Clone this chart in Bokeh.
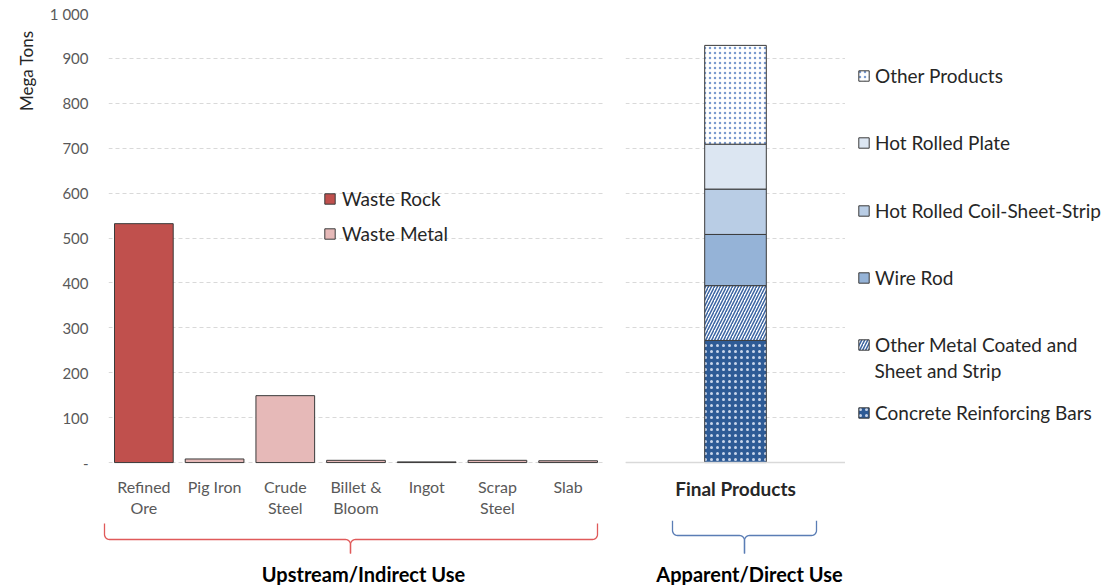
import math

from bokeh.core.properties import value
from bokeh.embed import file_html
from bokeh.layouts import column, row
from bokeh.models import (ColumnDataSource, FactorRange, FixedTicker, Label,
                          Legend, LegendItem, Range1d, Span, Title)
from bokeh.plotting import figure
from bokeh.resources import INLINE

FONT = "Lato"

# ---- data -------------------------------------------------------------
# Upstream / indirect use, mega tons
upstream_cats = ["Refined Ore", "Pig Iron", "Crude Steel", "Billet & Bloom",
                 "Ingot", "Scrap Steel", "Slab"]
upstream_label_line1 = ["Refined", "Pig Iron", "Crude", "Billet &", "Ingot", "Scrap", "Slab"]
upstream_label_line2 = ["Ore", "", "Steel", "Bloom", "", "Steel", ""]
upstream_vals = [532, 8, 149, 5, 1.5, 5, 4]
upstream_kind = ["Waste Rock", "Waste Metal", "Waste Metal", "Waste Metal",
                 "Waste Metal", "Waste Metal", "Waste Metal"]

# Apparent / direct use, final products stacked bottom to top, mega tons
final_cat = ["Final Products"]
product_names = ["Concrete Reinforcing Bars", "Other Metal Coated and Sheet and Strip",
                 "Wire Rod", "Hot Rolled Coil-Sheet-Strip", "Hot Rolled Plate",
                 "Other Products"]
product_vals = [272, 122, 114, 101, 100, 220]

y_ticks = [0, 100, 200, 300, 400, 500, 600, 700, 800, 900, 1000]
y_tick_labels = ["-", "100", "200", "300", "400", "500", "600", "700", "800", "900", "1 000"]

# ---- styles -----------------------------------------------------------
kind_colors = {"Waste Rock": "#C0504D", "Waste Metal": "#E6B9B8"}
product_fill = ["#2E5B96", "white", "#95B3D7", "#B9CDE5", "#DCE6F2", "white"]
product_hatch = ["dot", "right_diagonal_line", " ", " ", " ", "dot"]
product_hatch_color = ["#C9D6EA", "#3A64A2", "white", "white", "white", "#7A9BCF"]
product_hatch_scale = [6, 6, 6, 6, 6, 5]
product_hatch_weight = [0.35, 1.5, 1, 1, 1, 0.35]
stack_style = dict(fill_color=product_fill, line_color="#3A3A3A", line_width=1,
                   hatch_pattern=product_hatch, hatch_color=product_hatch_color,
                   hatch_scale=product_hatch_scale, hatch_weight=product_hatch_weight)

GRID = "#D9D9D9"
TICK_TEXT = "#595959"
TEXT = "#262626"
EDGE = "#3A3A3A"

Y_BOTTOM = -129            # room under the baseline for category labels
LABEL_Y1, LABEL_Y2 = -54, -100
FINAL_LABEL_Y = -58


def style_common(p):
    p.outline_line_color = None
    p.ygrid.grid_line_color = GRID
    p.ygrid.grid_line_dash = "4 3"
    p.xgrid.grid_line_color = None
    p.yaxis.ticker = FixedTicker(ticks=y_ticks)
    p.xaxis.visible = False


def legend_box(items, location, **kw):
    opts = dict(glyph_width=13, glyph_height=13, label_standoff=5, padding=0, margin=0,
                border_line_color=None, background_fill_alpha=0, inactive_fill_alpha=0,
                label_text_font=FONT, label_text_font_size="19px", label_text_color=TEXT)
    opts.update(kw)
    return Legend(items=items, location=location, **opts)


# ---- left panel: upstream bars ---------------------------------------
p1 = figure(width=612, height=520,
            x_range=FactorRange(*upstream_cats), y_range=Range1d(Y_BOTTOM, 1000),
            output_backend="svg", toolbar_location=None,
            min_border_left=108, min_border_right=9,
            min_border_top=13, min_border_bottom=0)
style_common(p1)

p1.yaxis.axis_line_color = None
p1.yaxis.major_tick_line_color = None
p1.yaxis.minor_tick_line_color = None
p1.yaxis.major_tick_out = 0
p1.yaxis.major_label_standoff = 20
p1.yaxis.major_label_text_font = FONT
p1.yaxis.major_label_text_font_size = "15px"
p1.yaxis.major_label_text_color = TICK_TEXT
p1.yaxis.major_label_overrides = {t: s for t, s in zip(y_ticks, y_tick_labels)}

p1.add_layout(Title(text="Mega Tons", align="right", offset=17, standoff=19,
                    text_font=FONT, text_font_size="17px", text_font_style="normal",
                    text_color=TEXT), "left")

kind_renderers = {}
for kind in ["Waste Rock", "Waste Metal"]:
    src = ColumnDataSource(dict(
        cat=[c for c, k in zip(upstream_cats, upstream_kind) if k == kind],
        val=[v for v, k in zip(upstream_vals, upstream_kind) if k == kind],
    ))
    kind_renderers[kind] = p1.vbar(x="cat", top="val", width=0.83, source=src,
                                   fill_color=kind_colors[kind],
                                   line_color=EDGE, line_width=1)

# category labels under the baseline
for line, ypos in ((upstream_label_line1, LABEL_Y1), (upstream_label_line2, LABEL_Y2)):
    p1.text(x=upstream_cats, y=[ypos] * len(upstream_cats), text=line,
            text_align="center", text_baseline="middle",
            text_font=value(FONT), text_font_size="16px", text_color=TICK_TEXT)

p1.add_layout(legend_box(
    [LegendItem(label=k, renderers=[r]) for k, r in kind_renderers.items()],
    (215, 275), orientation="vertical", spacing=12, label_standoff=6))

# ---- right panel: final products stack --------------------------------
p2 = figure(width=233, height=520,
            x_range=FactorRange(*final_cat), y_range=Range1d(Y_BOTTOM, 1000),
            output_backend="svg", toolbar_location=None,
            min_border_left=13, min_border_right=0,
            min_border_top=13, min_border_bottom=0)
style_common(p2)
p2.yaxis.visible = False
p2.add_layout(Span(location=0, dimension="width", line_color=GRID, line_width=1.5))

stack_src = ColumnDataSource(dict(cat=final_cat, **{n: [v] for n, v in zip(product_names, product_vals)}))
p2.vbar_stack(product_names, x="cat", width=0.28, source=stack_src, **stack_style)

p2.text(x=final_cat, y=[FINAL_LABEL_Y], text=final_cat,
        text_align="center", text_baseline="middle",
        text_font=value(FONT), text_font_style="bold", text_font_size="19px",
        text_color=TEXT)

# ---- legend strip for the product stack --------------------------------
# Same stack, styled identically but hidden, so only the legend swatches show.
p4 = figure(width=263, height=520, x_range=p2.x_range, y_range=Range1d(-2000, -1000),
            output_backend="svg", toolbar_location=None, min_border=0)
p4.axis.visible = False
p4.grid.grid_line_color = None
p4.outline_line_color = None
swatches = p4.vbar_stack(product_names, x="cat", width=0.28, source=stack_src,
                         visible=False, **stack_style)

# (label, stack index, legend bottom measured up from the strip's bottom)
legend_rows = [
    ("Other Products", 5, 433),
    ("Hot Rolled Plate", 4, 366),
    ("Hot Rolled Coil-Sheet-Strip", 3, 298),
    ("Wire Rod", 2, 231),
    ("Other Metal Coated and", 1, 164),
    ("Concrete Reinforcing Bars", 0, 96),
]
for text, idx, ypos in legend_rows:
    p4.add_layout(legend_box([LegendItem(label=text, renderers=[swatches[idx]])], (12, ypos)))
p4.add_layout(Label(x=29, y=150, x_units="screen", y_units="screen",
                    text="Sheet and Strip", text_align="left", text_baseline="middle",
                    text_font=FONT, text_font_size="19px", text_color=TEXT))

# ---- bottom strip: grouping braces -------------------------------------
p3 = figure(width=1108, height=65, x_range=Range1d(0, 1108), y_range=Range1d(65, 0),
            output_backend="svg", toolbar_location=None, min_border=0)
p3.axis.visible = False
p3.grid.grid_line_color = None
p3.outline_line_color = None


def brace(x0, x1, xm, ytop, ymid, ytip, r=5, n=8):
    """Two polylines forming a horizontal curly brace opening upward."""
    lx, ly = [x0], [ytop]
    for i in range(n + 1):
        a = math.pi - (math.pi / 2) * i / n
        lx.append(x0 + r + r * math.cos(a)); ly.append(ymid - r + r * math.sin(a))
    for i in range(n + 1):
        a = -math.pi / 2 + (math.pi / 2) * i / n
        lx.append(xm - r + r * math.cos(a)); ly.append(ymid + r + r * math.sin(a))
    lx.append(xm); ly.append(ytip)
    rx, ry = [x1], [ytop]
    for i in range(n + 1):
        a = (math.pi / 2) * i / n
        rx.append(x1 - r + r * math.cos(a)); ry.append(ymid - r + r * math.sin(a))
    for i in range(n + 1):
        a = -math.pi / 2 - (math.pi / 2) * i / n
        rx.append(xm + r + r * math.cos(a)); ry.append(ymid + r + r * math.sin(a))
    rx.append(xm); ry.append(ytip)
    return [lx, rx], [ly, ry]


bx, by = brace(104, 597, 350, 3, 19, 33)
p3.multi_line(bx, by, line_color="#E05A5A", line_width=1.3)
bx, by = brace(672, 816, 744, 0, 15, 33)
p3.multi_line(bx, by, line_color="#5A7DB5", line_width=1.3)

p3.text(x=[363, 749], y=[53, 53], text=["Upstream/Indirect Use", "Apparent/Direct Use"],
        text_align="center", text_baseline="middle",
        text_font=value(FONT), text_font_style="bold", text_font_size="20px",
        text_color="black")

layout = column(row(p1, p2, p4), p3)
open("out.html", "w").write(file_html(layout, INLINE))
